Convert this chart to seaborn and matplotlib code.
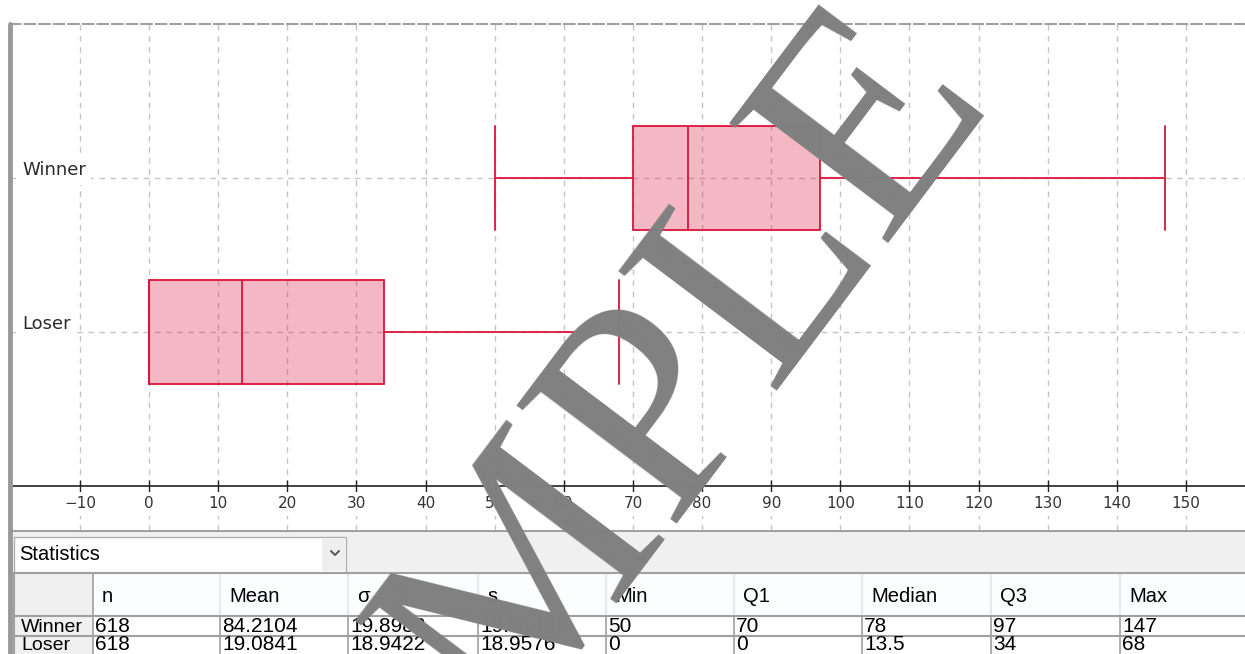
import matplotlib
matplotlib.use("Agg")
import matplotlib.pyplot as plt
from matplotlib.patches import Rectangle
import matplotlib.transforms as mtransforms
import numpy as np
import pandas as pd
import seaborn as sns

groups = ["Winner", "Loser"]
counts = [618, 618]
means = [84.2104, 19.0841]
sigmas = [19.8982, 18.9422]
sample_sds = [19.9143, 18.9576]
mins = [50, 0]
q1s = [70, 0]
medians = [78, 13.5]
q3s = [97, 34]
maxs = [147, 68]

stat_names = ["n", "Mean", "σ", "s", "Min", "Q1", "Median", "Q3", "Max"]
x_ticks = list(range(-10, 151, 10))

W, H = 1245, 654
CRIMSON = "#DC143C"
GRID = "#c4c4c4"
BORDER = "#a0a0a0"

sns.set_style("white")
plt.rcParams["font.family"] = ["DejaVu Sans"]

# five-number values per group -> seaborn computes the same quartiles back
rows = []
for g, a, b, c, d, e in zip(groups, mins, q1s, medians, q3s, maxs):
    for v in (a, b, c, d, e):
        rows.append({"group": g, "value": v})
df = pd.DataFrame(rows)

fig = plt.figure(figsize=(W / 100, H / 100), dpi=100)
ax = fig.add_axes([10 / W, (H - 530) / H, (W - 10) / W, (530 - 24) / H])

box_w = 0.67
sns.boxplot(
    data=df, x="value", y="group", order=groups, orient="h",
    whis=(0, 100), width=box_w, color="#f4b8c4", linecolor=CRIMSON,
    linewidth=1.3, saturation=1, showfliers=False, ax=ax,
)

# translucent fill so the grid shows through, caps as tall as the box
for p in ax.patches:
    p.set_facecolor((220 / 255, 20 / 255, 60 / 255, 0.3))
    p.set_edgecolor(CRIMSON)
for ln in ax.lines:
    xd, yd = np.asarray(ln.get_xdata()), np.asarray(ln.get_ydata())
    if len(xd) == 2 and xd[0] == xd[1]:
        mid = yd.mean()
        ln.set_ydata([mid - box_w / 2, mid + box_w / 2])

ax.set_xlim(-20.12, 158.54)
ax.set_ylim(2.286, -1)
ax.set_xticks(x_ticks)
ax.set_yticks(range(len(groups)))
ax.set_xlabel("")
ax.set_ylabel("")

ax.grid(True, color=GRID, linestyle=(0, (4, 4)), linewidth=1)
ax.set_axisbelow(True)

ax.spines["bottom"].set_position(("data", 2))
ax.spines["bottom"].set_color("#222222")
ax.spines["bottom"].set_linewidth(1.2)
ax.spines["top"].set_color(BORDER)
ax.spines["top"].set_linestyle((0, (5, 2)))
ax.spines["top"].set_linewidth(1.5)
ax.spines["left"].set_visible(False)
ax.spines["right"].set_visible(False)

ax.tick_params(axis="x", direction="inout", length=9, width=1, color="#222222",
               labelsize=11, labelcolor="#333333", pad=3, bottom=True)
ax.tick_params(axis="y", length=0, labelleft=False)
for lab in ax.get_xticklabels():
    lab.set_bbox(dict(facecolor="white", edgecolor="none", pad=3))

trans = mtransforms.blended_transform_factory(ax.transAxes, ax.transData)
for i, g in enumerate(groups):
    ax.text(12 / (W - 10), i - 0.05, g, transform=trans, ha="left", va="center",
            fontsize=13, color="#2a2a2a",
            bbox=dict(facecolor="white", edgecolor="none", pad=4))

# statistics panel below the plot, drawn in pixel coordinates
pax = fig.add_axes([0, 0, 1, 124 / H])
pax.set_xlim(0, W)
pax.set_ylim(654, 530)
pax.axis("off")

pax.add_patch(Rectangle((10, 531), W - 10, 43, facecolor="#f0f0f0", edgecolor="none"))
pax.plot([10, W], [531, 531], color=BORDER, lw=1.5)
pax.add_patch(Rectangle((14, 537), 332, 36, facecolor="white", edgecolor="#b0b0b0", lw=1))
pax.add_patch(Rectangle((322, 539), 23, 32, facecolor="#eeeeee", edgecolor="none"))
pax.plot([331, 335, 339], [551, 555, 551], color="#555555", lw=1.4)
pax.text(19, 555, "Statistics", ha="left", va="center", fontsize=14.5,
         family="Liberation Sans", color="black")

col_edges = [14, 93, 220, 348, 478, 606, 734, 862, 991, 1120, 1250]
row_edges = [573, 616, 636, 656]
table_rows = list(zip(counts, means, sigmas, sample_sds, mins, q1s, medians, q3s, maxs))

# header
pax.add_patch(Rectangle((14, 573), 79, 43, facecolor="#f0f0f0", edgecolor="none"))
pax.add_patch(Rectangle((93, 573), W - 93, 43, facecolor="#fcfdff", edgecolor="none"))
for xe in col_edges[2:-1]:
    pax.plot([xe, xe], [574, 615], color="#e2eaf4", lw=1.5)
for j, name in enumerate(stat_names):
    pax.text(col_edges[j + 1] + 9, 597, name, ha="left", va="center",
             fontsize=14.5, family="Liberation Sans", color="black")

# body
for i, (g, vals) in enumerate(zip(groups, table_rows)):
    top, bot = row_edges[i + 1], row_edges[i + 2]
    bottom_y = min(bot, H)
    pax.add_patch(Rectangle((14, top), 79, bot - top, facecolor="#f0f0f0", edgecolor="none"))
    pax.text(21, bottom_y, g, ha="left", va="bottom", fontsize=14,
             family="Liberation Sans", color="black")
    for j, v in enumerate(vals):
        pax.text(col_edges[j + 1] + 2, bottom_y, f"{v:g}", ha="left", va="bottom",
                 fontsize=15, family="Liberation Sans", color="black")

for ye in row_edges[:-1]:
    pax.plot([14, W], [ye, ye], color=BORDER, lw=1.5)
pax.plot([14, 14], [573, 656], color=BORDER, lw=1.5)
for xe in col_edges[1:-1]:
    pax.plot([xe, xe], [616, 656], color=BORDER, lw=1.2)
pax.plot([93, 93], [573, 616], color=BORDER, lw=1.2)

# outer left frame
fig.add_artist(plt.Line2D([9.5 / W, 9.5 / W], [0, (H - 24) / H], color="#999999", lw=3.5))

# watermark
fig.text(570 / W, 1 - 518 / H, "SAMPLE", rotation=53, rotation_mode="anchor", ha="center",
         va="center", fontsize=218, family="Liberation Serif", color="#808080", zorder=100)

fig.savefig("out.png", dpi=100)
